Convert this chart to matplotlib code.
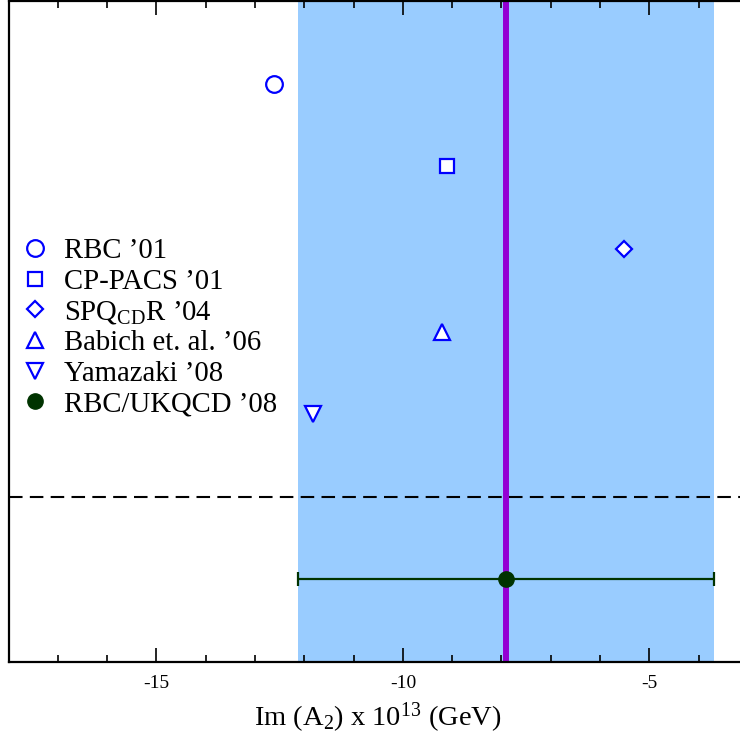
import matplotlib
matplotlib.use("Agg")
import matplotlib.pyplot as plt

plt.rcParams['font.family'] = ['Liberation Serif', 'DejaVu Serif']
plt.rcParams['mathtext.fontset'] = 'custom'
plt.rcParams['mathtext.rm'] = 'Liberation Serif'
plt.rcParams['mathtext.it'] = 'Liberation Serif:italic'

# resultados previos (marcadores abiertos)
etiquetas = ['RBC \u201901', 'CP-PACS \u201901', 'SPQ$_{\\mathrm{CD}}$R \u201904',
             'Babich et. al. \u201906', 'Yamazaki \u201908']
valores = [-12.61, -9.10, -5.51, -9.20, -11.82]
filas = [7, 6, 5, 4, 3]
marcadores = ['o', 's', 'D', '^', 'v']
tamanos = [12, 10, 8.5, 11, 11]

# resultado RBC/UKQCD '08
etiqueta_rbc = 'RBC/UKQCD \u201908'
valor_rbc = -7.9
error_rbc = 4.22
fila_rbc = 1
fila_corte = 2

fig = plt.figure(figsize=(7.40, 7.38), dpi=100)
ax = fig.add_axes([8.5 / 740, 76 / 738, 739.5 / 740, 661 / 738])

ax.axvspan(valor_rbc - error_rbc, valor_rbc + error_rbc, color='#99ccff', lw=0, zorder=0)
ax.axvline(valor_rbc, color='#9400d3', lw=4.3, zorder=1)
ax.axhline(fila_corte, color='black', lw=1.5, dashes=(6.5, 3.5), zorder=1)

for etq, v, f, m, s in zip(etiquetas, valores, filas, marcadores, tamanos):
    ax.plot([v], [f], linestyle='none', marker=m, ms=s, mfc='white', mec='#0000ff',
            mew=1.6, label=etq, zorder=3)

ax.errorbar([valor_rbc], [fila_rbc], xerr=[error_rbc], fmt='none', ecolor='#003300',
            elinewidth=1.6, capsize=5, capthick=1.6, zorder=4)
ax.plot([valor_rbc], [fila_rbc], linestyle='none', marker='o', ms=11, color='#003300',
        label=etiqueta_rbc, zorder=5)

ax.set_xlim(-18, -3)
ax.set_ylim(0, 8)
ax.set_xticks([-15, -10, -5])
ax.set_xticks(range(-17, -3), minor=True)
ax.set_xticklabels(['-15', '-10', '-5'])
ax.set_yticks([])
ax.tick_params(axis='x', which='major', direction='in', length=10, width=1.2,
               top=True, labelsize=14, pad=9)
ax.tick_params(axis='x', which='minor', direction='in', length=5, width=1.2, top=True)
for sp in ax.spines.values():
    sp.set_linewidth(1.6)

ax.set_xlabel('Im (A$_2$) x 10$^{13}$ (GeV)', fontsize=20.5, labelpad=7)

ax.legend(loc='upper left', bbox_to_anchor=(22 / 740, 1 - 238 / 738),
          bbox_transform=fig.transFigure, frameon=False, fontsize=20.7,
          borderpad=0, borderaxespad=0, handlelength=0.9, handletextpad=0.55,
          labelspacing=0.15, numpoints=1)

fig.savefig('out.png', dpi=100)
